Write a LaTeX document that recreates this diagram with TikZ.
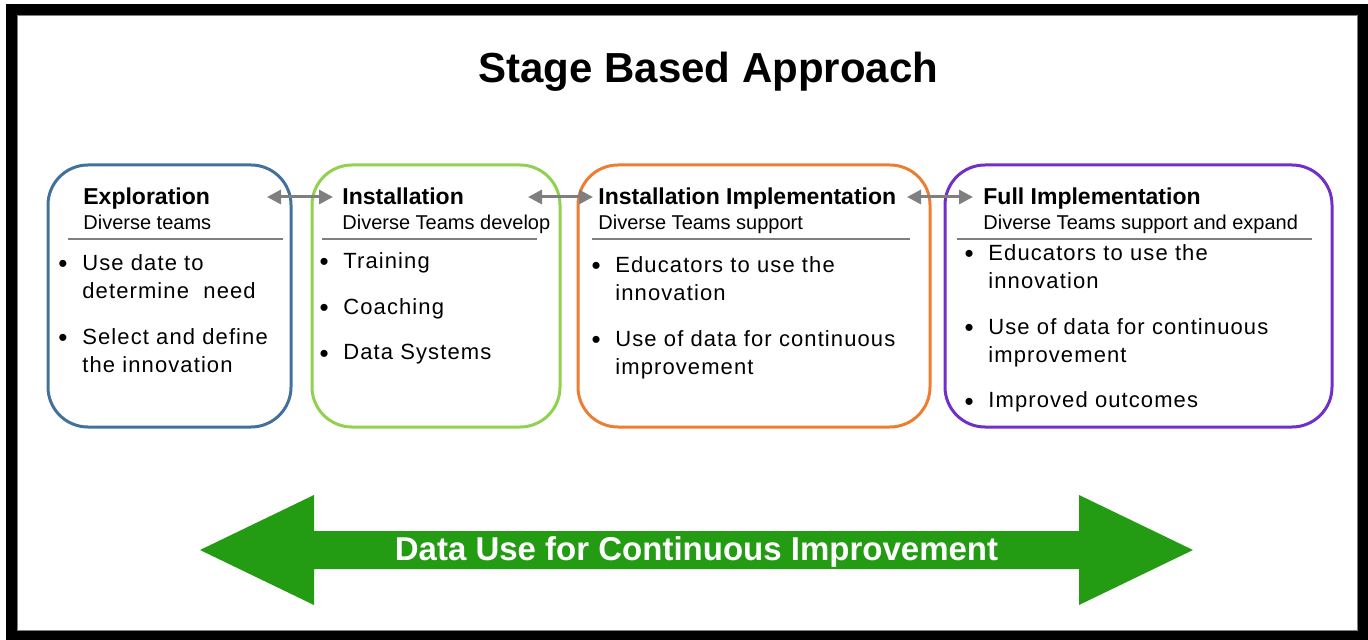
\documentclass[tikz,border=0pt]{standalone}
\usepackage{fontspec}
\setmainfont{Liberation Sans}
\newfontfamily\bodyfont{Liberation Sans}[LetterSpace=5]
\usetikzlibrary{
  arrows.meta,
  positioning,
}
\definecolor{explblue}{RGB}{65,113,156}
\definecolor{instgreen}{RGB}{146,208,80}
\definecolor{implorange}{RGB}{237,125,49}
\definecolor{fullpurple}{RGB}{112,48,200}
\definecolor{rulegray}{RGB}{127,127,127}
\definecolor{datagreen}{RGB}{35,155,18}
\tikzstyle{stagebox} = [
rectangle,
draw,
line width=1.5pt,
rounded corners=20pt,
inner sep=0pt
]
\tikzstyle{stagehead} = [
anchor=base west,
inner sep=0pt,
font=\fontsize{11.5}{14}\selectfont\bfseries
]
\tikzstyle{stagesub} = [
anchor=base west,
inner sep=0pt,
font=\fontsize{10}{12}\selectfont
]
\tikzstyle{stageitem} = [
anchor=north west,
inner sep=0pt,
align=left,
font=\bodyfont\fontsize{11}{14}\selectfont,
label={[anchor=north east, inner sep=0pt, xshift=-7pt, yshift=-1.2pt,
        font=\fontsize{13}{14}\selectfont]north west:\strut\textbullet}
]
\tikzstyle{sepline} = [draw=rulegray, line width=1pt]
\tikzstyle{linkarrow} = [draw=rulegray, line width=1.5pt,
  {Triangle[length=7pt,width=7pt]}-{Triangle[length=7pt,width=7pt]}]

\begin{document}
\begin{tikzpicture}[x=0.5pt, y=-0.5pt]
  \useasboundingbox (0,0) rectangle (1368,640);
  % Frame
  \draw[line width=5.5pt] (11.5,9.5) rectangle (1363,635.5);
  \draw[rulegray, line width=0.5pt] (17.5,15.5) rectangle (1357.5,630.5);

  % Title
  \node[anchor=base, inner sep=0pt, font=\fontsize{21}{25}\selectfont\bfseries]
    (title) at (708.5,83) {Stage Based Approach};

  % Stage boxes
  \node[stagebox, draw=explblue, minimum width=121.5pt, minimum height=131pt]
    (explbox) at (169.5,296) {};
  \node[stagebox, draw=instgreen, minimum width=124pt, minimum height=131pt]
    (instbox) at (436,296) {};
  \node[stagebox, draw=implorange, minimum width=176pt, minimum height=131pt]
    (implbox) at (754,296) {};
  \node[stagebox, draw=fullpurple, minimum width=193.5pt, minimum height=131pt]
    (fullbox) at (1138.5,296) {};

  % Headings
  \node[stagehead] (expl) at (83,205) {Exploration};
  \node[stagesub] (explsub) at (83,230) {Diverse teams};
  \node[stagehead] (inst) at (342,205) {Installation};
  \node[stagesub] (instsub) at (342,230) {Diverse Teams develop};
  \node[stagehead] (impl) at (598,205) {Installation Implementation};
  \node[stagesub] (implsub) at (598,230) {Diverse Teams support};
  \node[stagehead] (full) at (983,205) {Full Implementation};
  \node[stagesub] (fullsub) at (983,230) {Diverse Teams support and expand};

  % Separator lines
  \path[sepline] (68,239) -- (283,239);
  \path[sepline] (322,239) -- (537,239);
  \path[sepline] (592,239) -- (910,239);
  \path[sepline] (957,239) -- (1312,239);

  % Bullet items
  \node[stageitem] (expl1) at (82,250.4) {\strut Use date to\\determine\ \ need\strut};
  \node[stageitem, below=8.5pt of expl1.south west, anchor=north west]
    (expl2) {\strut Select and define\\the innovation\strut};

  \node[stageitem] (inst1) at (343,248.4) {\strut Training};
  \node[stageitem, below=8.5pt of inst1.south west, anchor=north west]
    (inst2) {\strut Coaching};
  \node[stageitem, below=8.5pt of inst2.south west, anchor=north west]
    (inst3) {\strut Data Systems};

  \node[stageitem] (impl1) at (615,252.4) {\strut Educators to use the\\innovation\strut};
  \node[stageitem, below=8.5pt of impl1.south west, anchor=north west]
    (impl2) {\strut Use of data for continuous\\improvement\strut};

  \node[stageitem] (full1) at (988,240.4) {\strut Educators to use the\\innovation\strut};
  \node[stageitem, below=8.5pt of full1.south west, anchor=north west]
    (full2) {\strut Use of data for continuous\\improvement\strut};
  \node[stageitem, below=8.5pt of full2.south west, anchor=north west]
    (full3) {\strut Improved outcomes};

  % Links between stages
  \coordinate (link1a) at (267,197);
  \coordinate (link1b) at (333,197);
  \coordinate (link2a) at (528,197);
  \coordinate (link2b) at (593,197);
  \coordinate (link3a) at (907,197);
  \coordinate (link3b) at (973,197);
  \path[linkarrow] (link1a) -- (link1b);
  \path[linkarrow] (link2a) -- (link2b);
  \path[linkarrow] (link3a) -- (link3b);

  % Data use arrow
  \fill[datagreen] (200,550) -- (314,495) -- (314,531) -- (1079,531)
    -- (1079,495) -- (1193,550) -- (1079,605) -- (1079,569)
    -- (314,569) -- (314,605) -- cycle;
  \node[anchor=base, inner sep=0pt, text=white,
        font=\fontsize{16.5}{20}\selectfont\bfseries]
    (datause) at (696.5,560) {Data Use for Continuous Improvement};
\end{tikzpicture}
\end{document}
